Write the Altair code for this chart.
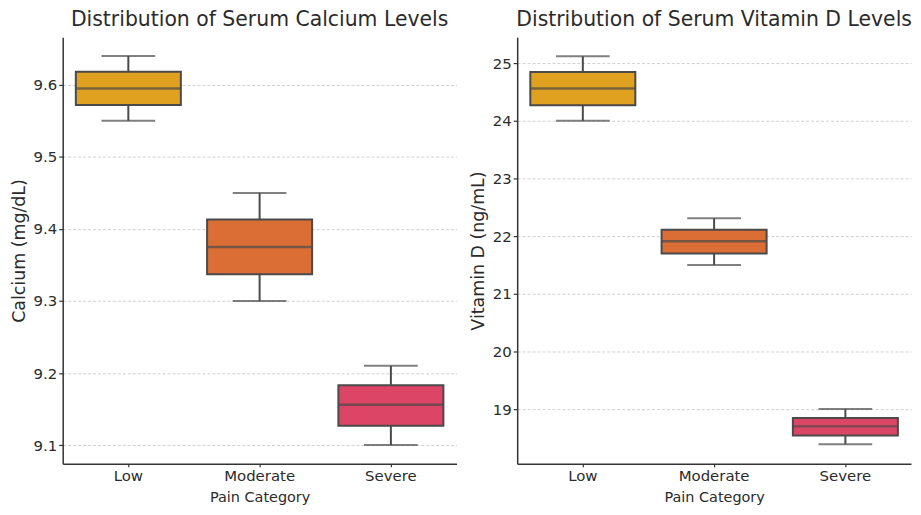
import altair as alt
import pandas as pd

categories = ["Low", "Moderate", "Severe"]
colors = ["#E0A020", "#DB6E35", "#DC4566"]

# Calcium (mg/dL) box statistics
ca_low = [9.55, 9.30, 9.10]
ca_q1 = [9.572, 9.337, 9.127]
ca_med = [9.595, 9.375, 9.156]
ca_q3 = [9.618, 9.413, 9.183]
ca_high = [9.64, 9.45, 9.21]

# Vitamin D (ng/mL) box statistics
vd_low = [24.0, 21.5, 18.39]
vd_q1 = [24.27, 21.70, 18.54]
vd_med = [24.56, 21.91, 18.70]
vd_q3 = [24.845, 22.11, 18.845]
vd_high = [25.12, 22.31, 19.0]

ca_ticks = [9.1, 9.2, 9.3, 9.4, 9.5, 9.6]
vd_ticks = [19, 20, 21, 22, 23, 24, 25]

EDGE = "#4a4a4a"
FONT = "DejaVu Sans"
TXT = "#2b2b2b"


def make_df(lo, q1, med, q3, hi):
    return pd.DataFrame({"cat": categories, "lo": lo, "q1": q1, "med": med, "q3": q3, "hi": hi})


def panel(df, title, ytitle, domain, ticks, fmt):
    x = alt.X("cat:N", sort=categories, title="Pain Category",
              scale=alt.Scale(domain=categories, paddingInner=0, paddingOuter=0),
              axis=alt.Axis(labelAngle=0, grid=False))
    yscale = alt.Scale(domain=domain, nice=False, zero=False)
    base = alt.Chart(df).encode(x=x)
    whisk_lo = base.mark_rule(color=EDGE, strokeWidth=2).encode(
        y=alt.Y("lo:Q", scale=yscale, title=ytitle,
                axis=alt.Axis(values=ticks, format=fmt, grid=True, gridDash=[3, 2],
                              gridColor="#d0d0d0")),
        y2="q1:Q")
    whisk_hi = base.mark_rule(color=EDGE, strokeWidth=2).encode(y="q3:Q", y2="hi:Q")
    box = base.mark_bar(width=alt.RelativeBandSize(0.8), stroke=EDGE, strokeWidth=2).encode(
        y="q1:Q", y2="q3:Q",
        color=alt.Color("cat:N", scale=alt.Scale(domain=categories, range=colors), legend=None))
    med = base.mark_tick(color=EDGE, size=106, thickness=2.5).encode(y="med:Q")
    cap_lo = base.mark_tick(color=EDGE, size=54, thickness=2).encode(y="lo:Q")
    cap_hi = base.mark_tick(color=EDGE, size=54, thickness=2).encode(y="hi:Q")
    return alt.layer(whisk_lo, whisk_hi, box, med, cap_lo, cap_hi).properties(
        width=396, height=429,
        title=alt.TitleParams(title, fontSize=20.5, fontWeight="normal", font=FONT,
                              color=TXT, anchor="middle", offset=7))


left = panel(make_df(ca_low, ca_q1, ca_med, ca_q3, ca_high),
             "Distribution of Serum Calcium Levels", "Calcium (mg/dL)",
             [9.074, 9.666], ca_ticks, ".1f")
right = panel(make_df(vd_low, vd_q1, vd_med, vd_q3, vd_high),
              "Distribution of Serum Vitamin D Levels", "Vitamin D (ng/mL)",
              [18.05, 25.45], vd_ticks, "d")

chart = alt.hconcat(left, right, spacing=12).configure(
    background="white", padding={"left": 2, "top": 0, "right": 0, "bottom": 0}
).configure_view(stroke=None).configure_axis(
    labelFont=FONT, titleFont=FONT, labelFontSize=15,
    labelColor=TXT, titleColor=TXT, titleFontWeight="normal",
    domainColor="#333333", domainWidth=1.5, tickColor="#333333", tickWidth=1.2
).configure_axisX(
    tickSize=3, labelPadding=2, titleFontSize=14.5, titlePadding=7
).configure_axisY(
    tickSize=4, labelPadding=2, titleFontSize=17.5, titlePadding=5
)

chart.save("out.html", embed_options={"renderer": "svg", "actions": False})
